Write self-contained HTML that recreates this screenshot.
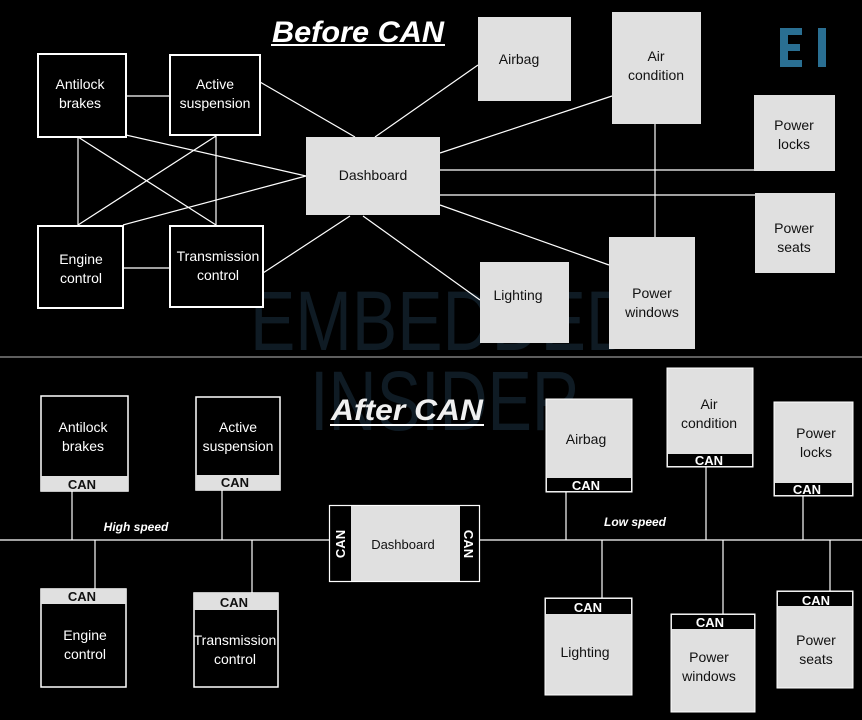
<!DOCTYPE html>
<html><head><meta charset="utf-8"><style>
html,body{margin:0;padding:0;background:#000;}
svg{display:block;}
text{font-family:"Liberation Sans",sans-serif;}
</style></head><body>
<svg width="862" height="720" viewBox="0 0 862 720" xmlns="http://www.w3.org/2000/svg">
<rect width="862" height="720" fill="#000"/>
<!-- watermark -->
<text x="250" y="350" font-size="84" fill="#0f1b24" textLength="385" lengthAdjust="spacingAndGlyphs">EMBEDDED</text>
<text x="310" y="430" font-size="84" fill="#0f1b24" textLength="270" lengthAdjust="spacingAndGlyphs">INSIDER</text>
<!-- EI logo -->
<g fill="#2a6f92">
<rect x="780" y="28" width="8" height="39" rx="2"/>
<rect x="780" y="28" width="22" height="7"/>
<rect x="780" y="44" width="20" height="7"/>
<rect x="780" y="60" width="22" height="7"/>
<rect x="818" y="28" width="8" height="39"/>
</g>
<!-- BEFORE lines -->
<g stroke="#fff" stroke-width="1.2" fill="none">
<line x1="126" y1="96" x2="170" y2="96"/>
<line x1="123" y1="268" x2="170" y2="268"/>
<line x1="78" y1="137" x2="78" y2="225"/>
<line x1="216" y1="135" x2="216" y2="225"/>
<line x1="78" y1="137" x2="216" y2="225"/>
<line x1="216" y1="136" x2="78" y2="225"/>
<line x1="126" y1="135" x2="306" y2="176"/>
<line x1="123" y1="225" x2="306" y2="176"/>
<line x1="260" y1="82" x2="355" y2="137"/>
<line x1="375" y1="137" x2="478" y2="65"/>
<line x1="263" y1="273" x2="350" y2="216"/>
<line x1="363" y1="216" x2="480" y2="300"/>
<line x1="440" y1="153" x2="612" y2="96"/>
<line x1="440" y1="170" x2="754" y2="170"/>
<line x1="440" y1="195" x2="755" y2="195"/>
<line x1="440" y1="205" x2="609" y2="265"/>
<line x1="655" y1="124" x2="655" y2="237"/>
</g>
<!-- BEFORE boxes -->
<g stroke="#fff" stroke-width="2" fill="#000">
<rect x="38" y="54" width="88" height="83"/>
<rect x="170" y="55" width="90" height="80"/>
<rect x="38" y="226" width="85" height="82"/>
<rect x="170" y="226" width="93" height="81"/>
</g>
<g fill="#e0e0e0">
<rect x="306" y="137" width="134" height="78"/>
<rect x="478" y="17" width="93" height="84"/>
<rect x="612" y="12" width="89" height="112"/>
<rect x="754" y="95" width="81" height="76"/>
<rect x="755" y="193" width="80" height="80"/>
<rect x="480" y="262" width="89" height="81"/>
<rect x="609" y="237" width="86" height="112"/>
</g>
<g font-size="14" text-anchor="middle" fill="#fff">
<text x="80" y="89">Antilock</text><text x="80" y="108">brakes</text>
<text x="215" y="89">Active</text><text x="215" y="108">suspension</text>
<text x="81" y="264">Engine</text><text x="81" y="283">control</text>
<text x="218" y="261">Transmission</text><text x="218" y="280">control</text>
</g>
<g font-size="14" text-anchor="middle" fill="#111">
<text x="373" y="180">Dashboard</text>
<text x="519" y="64">Airbag</text>
<text x="656" y="61">Air</text><text x="656" y="80">condition</text>
<text x="794" y="130">Power</text><text x="794" y="149">locks</text>
<text x="794" y="233">Power</text><text x="794" y="252">seats</text>
<text x="518" y="300">Lighting</text>
<text x="652" y="298">Power</text><text x="652" y="317">windows</text>
</g>
<!-- titles -->
<text x="358" y="42" font-size="30" font-weight="bold" font-style="italic" fill="#fff" text-anchor="middle" textLength="172" lengthAdjust="spacingAndGlyphs">Before CAN</text>
<rect x="271" y="44" width="174" height="2" fill="#fff"/>
<text x="407" y="420" font-size="30" font-weight="bold" font-style="italic" fill="#f0f0f0" text-anchor="middle" textLength="152" lengthAdjust="spacingAndGlyphs">After CAN</text>
<rect x="330" y="424" width="154" height="2" fill="#fff"/>
<!-- divider -->
<line x1="0" y1="357" x2="862" y2="357" stroke="#bbb" stroke-width="1"/>
<!-- AFTER bus -->
<g stroke="#fff" stroke-width="1.2">
<line x1="0" y1="540" x2="329" y2="540"/>
<line x1="480" y1="540" x2="862" y2="540"/>
<line x1="72" y1="491" x2="72" y2="540"/>
<line x1="222" y1="490" x2="222" y2="540"/>
<line x1="95" y1="540" x2="95" y2="589"/>
<line x1="252" y1="540" x2="252" y2="593"/>
<line x1="566" y1="492" x2="566" y2="540"/>
<line x1="706" y1="467" x2="706" y2="540"/>
<line x1="803" y1="496" x2="803" y2="540"/>
<line x1="602" y1="540" x2="602" y2="598"/>
<line x1="723" y1="540" x2="723" y2="614"/>
<line x1="830" y1="540" x2="830" y2="591"/>
</g>
<text x="136" y="531" font-size="12" font-weight="bold" font-style="italic" fill="#fff" text-anchor="middle">High speed</text>
<text x="635" y="526" font-size="12" font-weight="bold" font-style="italic" fill="#fff" text-anchor="middle">Low speed</text>
<!-- AFTER left boxes (dark, light CAN strip) -->
<g stroke="#fff" stroke-width="1.5" fill="#000">
<rect x="41" y="396" width="87" height="95"/>
<rect x="196" y="397" width="84" height="93"/>
<rect x="41" y="589" width="85" height="98"/>
<rect x="194" y="593" width="84" height="94"/>
</g>
<g fill="#e0e0e0">
<rect x="41" y="476" width="87" height="15"/>
<rect x="196" y="475" width="84" height="15"/>
<rect x="41" y="589" width="85" height="15"/>
<rect x="194" y="593" width="84" height="17"/>
</g>
<g font-size="13" font-weight="bold" text-anchor="middle" fill="#111">
<text x="82" y="489">CAN</text>
<text x="235" y="487">CAN</text>
<text x="82" y="601">CAN</text>
<text x="234" y="607">CAN</text>
</g>
<g font-size="14" text-anchor="middle" fill="#fff">
<text x="83" y="432">Antilock</text><text x="83" y="451">brakes</text>
<text x="238" y="432">Active</text><text x="238" y="451">suspension</text>
<text x="85" y="640">Engine</text><text x="85" y="659">control</text>
<text x="235" y="645">Transmission</text><text x="235" y="664">control</text>
</g>
<!-- dashboard after -->
<rect x="329.5" y="505.5" width="150" height="76" fill="#000" stroke="#fff" stroke-width="1.2"/>
<rect x="351" y="506" width="109" height="75" fill="#e0e0e0"/>
<text x="403" y="549" font-size="13" fill="#111" text-anchor="middle">Dashboard</text>
<text transform="translate(345,544) rotate(-90)" font-size="13" font-weight="bold" fill="#fff" text-anchor="middle">CAN</text>
<text transform="translate(464,544) rotate(90)" font-size="13" font-weight="bold" fill="#fff" text-anchor="middle">CAN</text>
<!-- AFTER right boxes (light, dark CAN strip) -->
<g fill="#e0e0e0" stroke="#fff" stroke-width="1">
<rect x="546" y="399" width="86" height="93"/>
<rect x="667" y="368" width="86" height="99"/>
<rect x="774" y="402" width="79" height="94"/>
<rect x="545" y="598" width="87" height="97"/>
<rect x="671" y="614" width="84" height="98"/>
<rect x="777" y="591" width="76" height="97"/>
</g>
<g fill="#000">
<rect x="547" y="478" width="84" height="13"/>
<rect x="668" y="454" width="84" height="12"/>
<rect x="775" y="483" width="77" height="12"/>
<rect x="546" y="599" width="85" height="15"/>
<rect x="672" y="615" width="82" height="14"/>
<rect x="778" y="592" width="74" height="14"/>
</g>
<g font-size="13" font-weight="bold" text-anchor="middle" fill="#fff">
<text x="586" y="490">CAN</text>
<text x="709" y="465">CAN</text>
<text x="807" y="494">CAN</text>
<text x="588" y="612">CAN</text>
<text x="710" y="627">CAN</text>
<text x="816" y="605">CAN</text>
</g>
<g font-size="14" text-anchor="middle" fill="#111">
<text x="586" y="444">Airbag</text>
<text x="709" y="409">Air</text><text x="709" y="428">condition</text>
<text x="816" y="438">Power</text><text x="816" y="457">locks</text>
<text x="585" y="657">Lighting</text>
<text x="709" y="662">Power</text><text x="709" y="681">windows</text>
<text x="816" y="645">Power</text><text x="816" y="664">seats</text>
</g>
</svg>
</body></html>
